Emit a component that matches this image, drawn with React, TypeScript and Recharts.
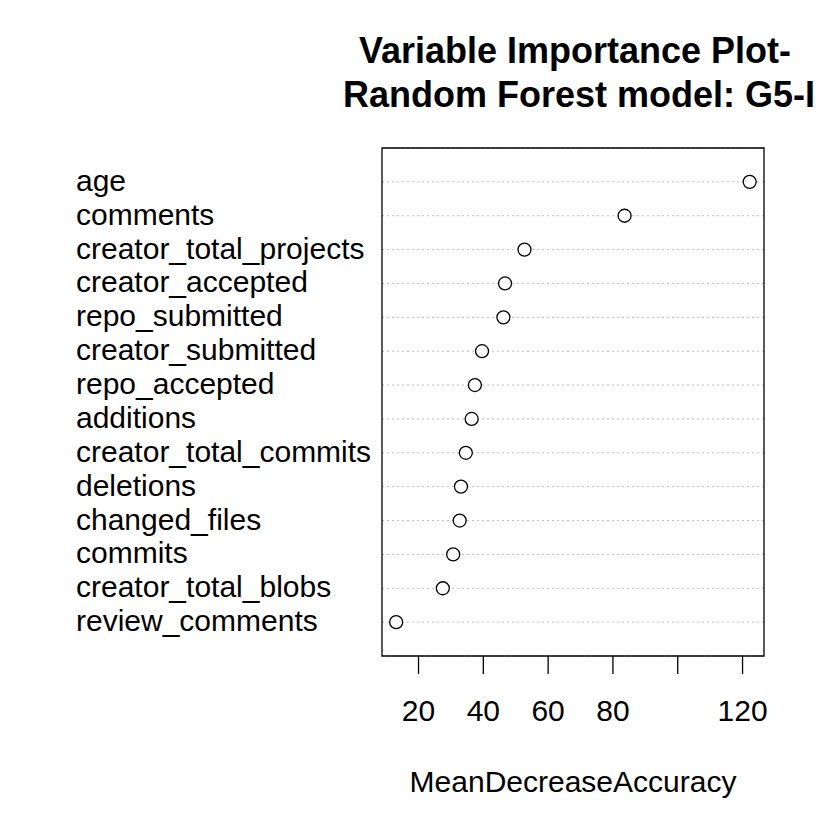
import {
  ScatterChart,
  Scatter,
  XAxis,
  YAxis,
  CartesianGrid,
  ReferenceArea,
} from "recharts";

// variables, top to bottom as in the dotchart
const variables = [
  "age",
  "comments",
  "creator_total_projects",
  "creator_accepted",
  "repo_submitted",
  "creator_submitted",
  "repo_accepted",
  "additions",
  "creator_total_commits",
  "deletions",
  "changed_files",
  "commits",
  "creator_total_blobs",
  "review_comments",
];

const meanDecreaseAccuracy = [
  122.2, 83.6, 52.7, 46.7, 46.2, 39.6, 37.4, 36.4, 34.6, 33.1, 32.7, 30.7,
  27.5, 13.1,
];

const xTicks = [20, 40, 60, 80, 100, 120];
const xDomain: [number, number] = [8.73, 126.62];

const titleLines = ["Variable Importance Plot-", "Random Forest model: G5-I"];
const xLabel = "MeanDecreaseAccuracy";

const FONT = '"Liberation Sans", Arial, Helvetica, sans-serif';

const n = variables.length;
const data = variables.map((name, i) => ({
  name,
  value: meanDecreaseAccuracy[i],
  row: n - i,
}));
const rowTicks = data.map((d) => d.row);
const nameByRow: Record<number, string> = {};
data.forEach((d) => (nameByRow[d.row] = d.name));

function YTick(props: any) {
  const { y, payload } = props;
  return (
    <text x={76} y={y + 9} textAnchor="start" fontSize={30} fontFamily={FONT} fill="#000">
      {nameByRow[payload.value]}
    </text>
  );
}

function XTick(props: any) {
  const { x, payload } = props;
  if (payload.value === 100) return <g />;
  return (
    <text x={x} y={721} textAnchor="middle" fontSize={30} fontFamily={FONT} fill="#000">
      {payload.value}
    </text>
  );
}

function OpenDot(props: any) {
  const { cx, cy } = props;
  return <circle cx={cx} cy={cy} r={6.5} fill="#fff" stroke="#000" strokeWidth={1.3} />;
}

export default function App() {
  return (
    <div
      style={{
        position: "absolute",
        left: 0,
        top: 0,
        width: 840,
        height: 840,
        background: "#fff",
      }}
    >
      <ScatterChart
        width={840}
        height={840}
        margin={{ top: 148, right: 76, bottom: 0, left: 76 }}
      >
        <CartesianGrid
          horizontal
          vertical={false}
          stroke="#bebebe"
          strokeDasharray="2 3"
        />
        <XAxis
          type="number"
          dataKey="value"
          domain={xDomain}
          ticks={xTicks}
          allowDataOverflow
          axisLine={false}
          tickSize={18}
          tickLine={{ stroke: "#000", strokeWidth: 1.3 }}
          tick={<XTick />}
          height={184}
          interval={0}
        />
        <YAxis
          type="number"
          dataKey="row"
          domain={[0, 15]}
          ticks={rowTicks}
          allowDataOverflow
          axisLine={false}
          tickLine={false}
          tick={<YTick />}
          width={306}
          interval={0}
        />
        <ReferenceArea
          x1={xDomain[0]}
          x2={xDomain[1]}
          y1={0}
          y2={15}
          fill="none"
          stroke="#000"
          strokeWidth={1.3}
          ifOverflow="visible"
        />
        <Scatter data={data} shape={<OpenDot />} isAnimationActive={false} />
      </ScatterChart>
      <svg
        width={840}
        height={840}
        style={{ position: "absolute", left: 0, top: 0, pointerEvents: "none" }}
      >
        <text x={575} y={63} textAnchor="middle" fontSize={36} fontWeight="bold" fontFamily={FONT}>
          {titleLines[0]}
        </text>
        <text x={579} y={107} textAnchor="middle" fontSize={36} fontWeight="bold" fontFamily={FONT}>
          {titleLines[1]}
        </text>
        <text x={573} y={792} textAnchor="middle" fontSize={30} fontFamily={FONT}>
          {xLabel}
        </text>
      </svg>
    </div>
  );
}
